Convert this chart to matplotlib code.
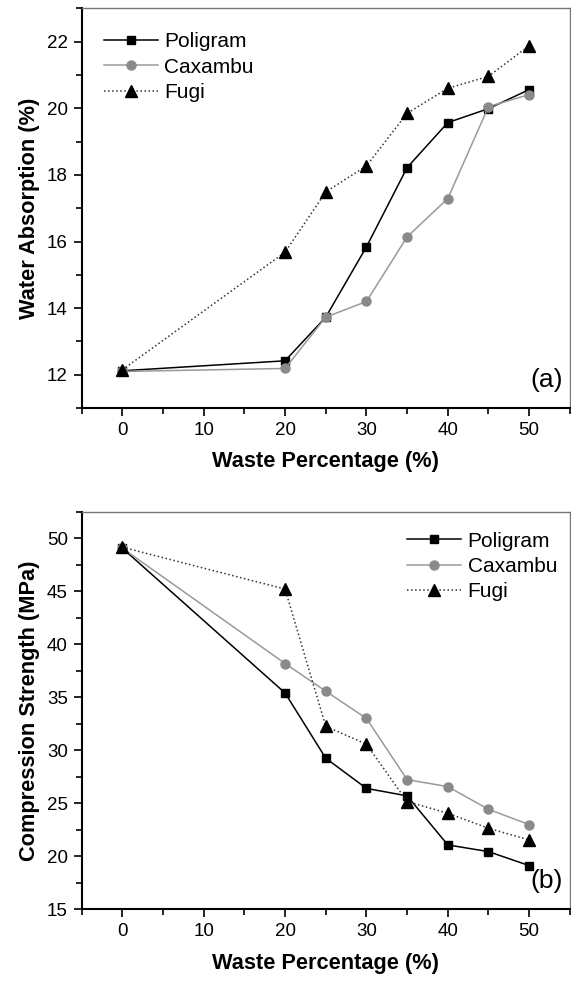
import matplotlib.pyplot as plt
from matplotlib.ticker import MultipleLocator

plt.rcParams['font.family'] = ['Liberation Sans', 'DejaVu Sans']

# доля отходов, %
waste = [0, 20, 25, 30, 35, 40, 45, 50]

# (a) водопоглощение, %
wa_poligram = [12.12, 12.42, 13.73, 15.84, 18.22, 19.57, 19.99, 20.56]
wa_caxambu = [12.10, 12.19, 13.73, 14.20, 16.14, 17.29, 20.05, 20.41]
wa_fugi = [12.15, 15.68, 17.49, 18.27, 19.85, 20.60, 20.96, 21.88]

# (b) прочность на сжатие, МПа
cs_poligram = [49.06, 35.40, 29.25, 26.40, 25.70, 21.07, 20.44, 19.12]
cs_caxambu = [49.06, 38.18, 35.57, 33.00, 27.23, 26.57, 24.43, 22.99]
cs_fugi = [49.15, 45.20, 32.26, 30.57, 25.16, 24.06, 22.64, 21.54]

series_names = ['Poligram', 'Caxambu', 'Fugi']

fig = plt.figure(figsize=(5.71, 9.81), dpi=100)
ax1 = fig.add_axes([0.143, 0.584, 0.855, 0.4075])
ax2 = fig.add_axes([0.143, 0.0731, 0.855, 0.4053])


def draw(ax, ys, ylim, ymaj, ymin, ylabel, tag, legend_anchor):
    ax.plot(waste, ys[0], '-', color='black', lw=1.1, marker='s', ms=6,
            mfc='black', mec='black', label=series_names[0])
    ax.plot(waste, ys[1], '-', color='#9a9a9a', lw=1.1, marker='o', ms=6.5,
            mfc='#8a8a8a', mec='#8a8a8a', label=series_names[1])
    ax.plot(waste, ys[2], ':', color='#333333', lw=1.1, marker='^', ms=8,
            mfc='black', mec='black', label=series_names[2])

    ax.set_xlim(-5, 55)
    ax.set_ylim(*ylim)
    ax.xaxis.set_major_locator(MultipleLocator(10))
    ax.xaxis.set_minor_locator(MultipleLocator(5))
    ax.yaxis.set_major_locator(MultipleLocator(ymaj))
    ax.yaxis.set_minor_locator(MultipleLocator(ymin))
    ax.tick_params(which='both', direction='out', width=1.2, labelsize=13.5,
                   top=False, right=False, pad=4)
    ax.tick_params(which='major', length=6)
    ax.tick_params(which='minor', length=4)

    for s in ('left', 'bottom'):
        ax.spines[s].set_linewidth(1.5)
        ax.spines[s].set_color('black')
    for s in ('top', 'right'):
        ax.spines[s].set_linewidth(1.0)
        ax.spines[s].set_color('#777777')

    ax.set_xlabel('Waste Percentage (%)', fontsize=15.7, fontweight='bold', labelpad=9)
    ax.set_ylabel(ylabel, fontsize=15.7, fontweight='bold', labelpad=5)
    ax.text(0.985, 0.04, tag, transform=ax.transAxes, ha='right', va='bottom',
            fontsize=19)
    ax.legend(loc='upper left', bbox_to_anchor=legend_anchor, frameon=False,
              fontsize=15, handlelength=2.6, handletextpad=0.3,
              labelspacing=0.3, borderpad=0, borderaxespad=0)


draw(ax1, [wa_poligram, wa_caxambu, wa_fugi], (11, 23), 2, 1,
     'Water Absorption (%)', '(a)', (0.045, 0.94))
draw(ax2, [cs_poligram, cs_caxambu, cs_fugi], (15, 52.5), 5, 2.5,
     'Compression Strength (MPa)', '(b)', (0.667, 0.95))

fig.savefig('out.png', dpi=100)
